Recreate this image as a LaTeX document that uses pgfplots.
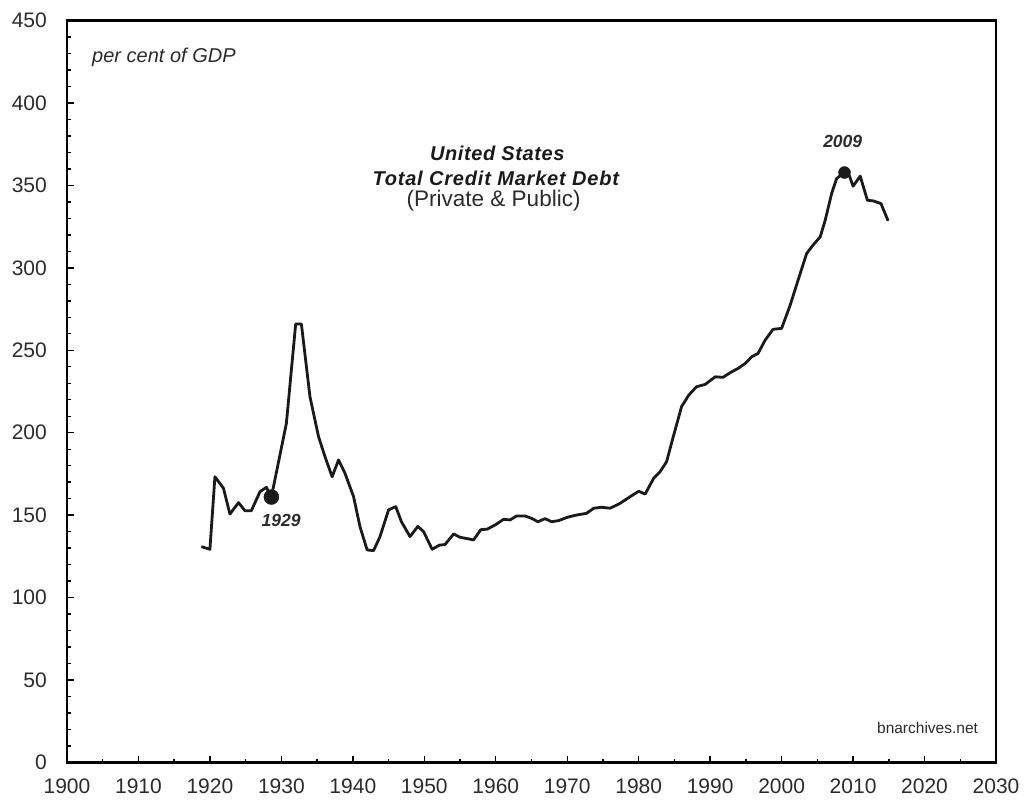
\documentclass[border=0pt]{standalone}
\usepackage{pgfplots}
\pgfplotsset{compat=1.18}
\usepackage{fontspec}
\setmainfont{Liberation Sans}
\definecolor{txt}{HTML}{2B2B2B}
\definecolor{ln}{HTML}{1A1A1A}
\begin{document}
\begin{tikzpicture}
\begin{axis}[
  scale only axis, width=929pt, height=742pt,
  xmin=1900, xmax=2030, ymin=0, ymax=450,
  clip=false,
  xtick={1900,1910,...,2030}, minor x tick num=1,
  ytick={0,50,...,450}, minor y tick num=4,
  tick align=inside, xtick pos=bottom, ytick pos=left,
  major tick length=7pt, minor tick length=4pt,
  every tick/.style={black, line width=1.4pt},
  axis line style={black, line width=2.6pt},
  /pgf/number format/assume math mode=true,
  xticklabel style={/pgf/number format/1000 sep={}, font=\fontsize{21}{24}\selectfont, text=txt, inner sep=0pt, anchor=north, yshift=-16.5pt},
  yticklabel style={font=\fontsize{21}{24}\selectfont, text=txt, inner sep=0pt, anchor=east, xshift=-20pt},
]
\path ([shift={(-67pt,-37.3pt)}]rel axis cs:0,0) rectangle ([shift={(28pt,20.5pt)}]rel axis cs:1,1);
\addplot[ln, line width=2.8pt, line join=round] coordinates {
(1918.8,130.9) (1920.0,129.3) (1920.7,173.3) (1921.9,166.3) (1922.8,150.7)
(1924.0,157.6) (1924.9,152.7) (1925.8,152.7) (1927.0,164.2) (1927.9,166.9)
(1928.6,161.0) (1930.7,205.7) (1932.0,265.9) (1932.8,265.9) (1934.0,221.8)
(1935.2,197.6) (1936.1,185.5) (1937.1,173.3) (1938.0,183.5) (1938.9,175.4)
(1940.1,161.2) (1941.0,143.0) (1942.0,128.9) (1942.9,128.5) (1943.8,137.0)
(1945.0,153.2) (1946.0,155.2) (1946.8,146.0) (1948.0,137.0) (1949.1,143.2)
(1949.9,140.0) (1951.1,129.3) (1952.1,131.8) (1952.9,132.2) (1954.1,138.6)
(1955.0,136.6) (1956.9,135.0) (1957.9,141.2) (1958.8,141.5) (1960.0,144.3)
(1961.1,147.5) (1962.0,147.1) (1962.9,149.5) (1964.1,149.5) (1965.0,148.1)
(1965.9,146.0) (1966.9,147.9) (1967.8,146.0) (1968.8,146.7) (1970.0,148.7)
(1971.3,150.1) (1972.7,151.1) (1973.7,154.2) (1974.8,154.8) (1976.0,154.2)
(1977.4,157.2) (1978.8,161.2) (1980.0,164.5) (1980.9,162.8) (1982.1,172.4)
(1983.0,176.4) (1983.9,182.4) (1984.8,197.0) (1986.0,215.8) (1987.0,222.8)
(1988.1,227.9) (1989.3,229.3) (1990.7,233.9) (1991.8,233.6) (1992.8,236.4)
(1993.9,239.0) (1994.9,242.0) (1995.8,246.0) (1996.7,248.1) (1997.7,256.2)
(1998.8,262.7) (2000.0,263.3) (2001.2,277.4) (2002.3,292.5) (2003.5,308.7)
(2004.4,313.8) (2005.4,318.8) (2006.1,328.9) (2007.0,345.1) (2007.7,354.2)
(2008.8,357.8) (2009.5,355.6) (2010.0,349.5) (2011.0,355.6) (2012.0,341.0)
(2012.8,340.6) (2013.9,339.0) (2014.9,328.5)
};
\addplot[only marks, mark=*, mark size=7.5pt, ln, mark options={fill=ln, draw=ln}] coordinates {(1928.6,161.0)};
\addplot[only marks, mark=*, mark size=6pt, ln, mark options={fill=ln, draw=ln}] coordinates {(2008.8,357.8)};
\node[text=txt, font=\fontsize{17.5}{20}\selectfont\bfseries\itshape] at (axis cs:1929.95,147) {1929};
\node[text=txt, font=\fontsize{17.5}{20}\selectfont\bfseries\itshape] at (axis cs:2008.55,376.4) {2009};
\node[text=ln, font=\fontsize{20}{24}\selectfont\bfseries\itshape\addfontfeature{LetterSpace=3}] at (axis cs:1960.2,369.5) {United States};
\node[text=ln, font=\fontsize{20}{24}\selectfont\bfseries\itshape\addfontfeature{LetterSpace=4}] at (axis cs:1960.0,354.4) {Total Credit Market Debt};
\node[text=txt, font=\fontsize{22.5}{26}\selectfont] at (axis cs:1959.7,340.5) {(Private \& Public)};
\node[text=txt, anchor=west, inner sep=0pt, font=\fontsize{20}{24}\selectfont\itshape] at (axis cs:1903.5,427.7) {per cent of GDP};
\node[text=txt, anchor=east, inner sep=0pt, font=\fontsize{15.5}{18}\selectfont] at (axis cs:2027.5,21) {bnarchives.net};
\end{axis}
\end{tikzpicture}
\end{document}
